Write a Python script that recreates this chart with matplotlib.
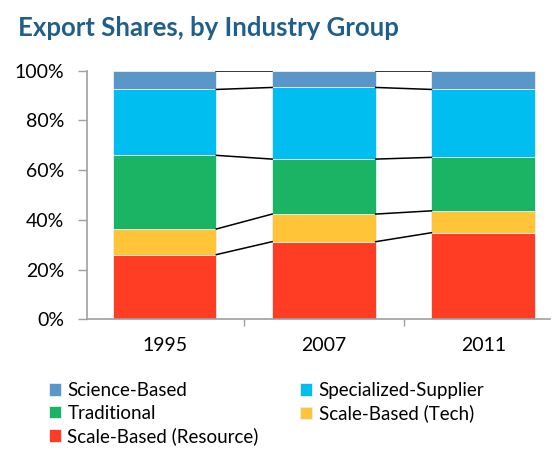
import matplotlib.pyplot as plt
import numpy as np
from matplotlib.ticker import PercentFormatter

years = ["1995", "2007", "2011"]
groups = ["Scale-Based (Resource)", "Scale-Based (Tech)", "Traditional",
          "Specialized-Supplier", "Science-Based"]
resource = [26.0, 31.2, 34.8]
tech = [10.3, 11.1, 8.8]
traditional = [29.6, 22.1, 21.5]
specialized = [26.5, 28.8, 27.3]
science = [7.6, 6.8, 7.6]

colors = ["#FF3C24", "#FFC438", "#1AB464", "#00BEF0", "#5A96C8"]
series = [resource, tech, traditional, specialized, science]

plt.rcParams["font.family"] = ["Lato", "DejaVu Sans"]

fig = plt.figure(figsize=(5.52, 4.49), dpi=100)
ax = fig.add_axes([0.1576, 0.2889, 0.839, 0.554])

x = np.arange(len(years))
width = 0.65
bottom = np.zeros(len(years))
handles = []
for vals, col, name in zip(series, colors, groups):
    vals = np.asarray(vals)
    h = ax.bar(x, vals, width, bottom=bottom, color=col, edgecolor="#E8F0F4",
               linewidth=0.6, label=name, zorder=2)
    handles.append(h)
    bottom = bottom + vals
    # series lines between bars
    for i in range(len(years) - 1):
        ax.plot([x[i] + width / 2, x[i + 1] - width / 2], [bottom[i], bottom[i + 1]],
                color="black", linewidth=1.1, zorder=3)

ax.set_xlim(-0.487, 2.42)
ax.set_ylim(0, 100)
ax.yaxis.set_major_formatter(PercentFormatter(decimals=0))
ax.set_yticks(np.arange(0, 101, 20))
ax.set_xticks(x)
ax.set_xticklabels(years)
ax.set_xticks([0.5, 1.5], minor=True)
ax.tick_params(axis="x", which="major", length=0, pad=13, labelsize=14)
ax.tick_params(axis="x", which="minor", length=5, color="#A0A0A0", width=1)
ax.tick_params(axis="y", length=6.5, color="#A0A0A0", width=1, labelsize=14, pad=10)
for side in ["top", "right"]:
    ax.spines[side].set_visible(False)
for side in ["left", "bottom"]:
    ax.spines[side].set_color("#A0A0A0")
    ax.spines[side].set_linewidth(1.2)

fig.text(0.033, 0.937, "Export Shares, by Industry Group", fontsize=18.5,
         fontweight="bold", color="#1F5F8B", va="center")

# legend filled column-wise: Science, Traditional, Resource | Specialized, Tech
order = [4, 2, 0, 3, 1]
fig.legend([handles[i] for i in order], [groups[i] for i in order],
           loc="upper left", bbox_to_anchor=(0.088, 0.149), ncol=2,
           frameon=False, fontsize=13.5, handlelength=0.65, handleheight=0.65,
           handletextpad=0.35, columnspacing=2.2, labelspacing=0.3,
           borderaxespad=0, borderpad=0)

fig.savefig("out.png", dpi=100)
